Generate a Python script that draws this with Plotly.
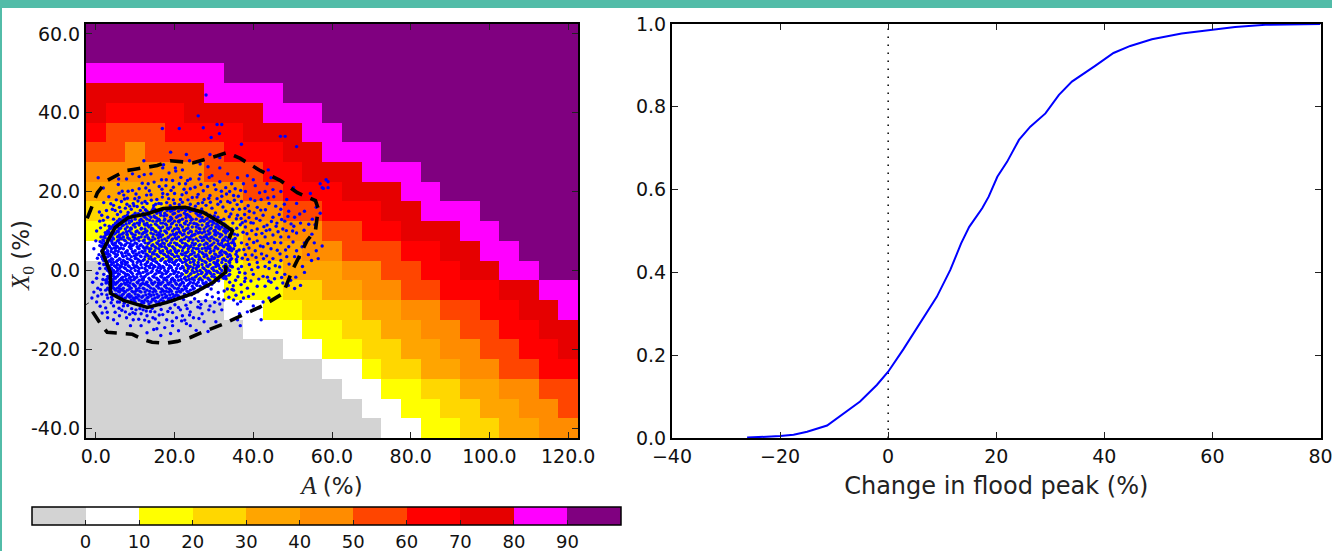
import plotly.graph_objects as go

# ---------- heat map (run-length: level, count, level, count ...) top row first ----------
x_cells = [0, 5, 10, 15, 20, 25, 30, 35, 40, 45, 50, 55, 60, 65, 70, 75, 80, 85, 90, 95, 100, 105, 110, 115, 120]
y_cells = [60, 55, 50, 45, 40, 35, 30, 25, 20, 15, 10, 5, 0, -5, -10, -15, -20, -25, -30, -35, -40]
level_mid = [-5, 5, 15, 25, 35, 45, 55, 65, 75, 85, 95]
level_runs = [
    [10, 25],
    [10, 25],
    [9, 7, 10, 18],
    [8, 6, 9, 4, 10, 15],
    [8, 1, 7, 4, 8, 4, 9, 3, 10, 13],
    [7, 1, 6, 3, 7, 4, 8, 3, 9, 2, 10, 12],
    [6, 2, 5, 1, 6, 4, 7, 3, 8, 2, 9, 3, 10, 10],
    [5, 6, 6, 3, 7, 2, 8, 3, 9, 3, 10, 8],
    [4, 5, 5, 3, 6, 2, 7, 3, 8, 3, 9, 2, 10, 7],
    [3, 4, 4, 4, 5, 2, 6, 2, 7, 3, 8, 2, 9, 3, 10, 5],
    [2, 4, 3, 4, 4, 2, 5, 2, 6, 2, 7, 2, 8, 3, 9, 2, 10, 4],
    [1, 3, 2, 3, 3, 2, 4, 3, 5, 2, 6, 3, 7, 2, 8, 2, 9, 2, 10, 3],
    [0, 1, 1, 4, 2, 3, 3, 2, 4, 3, 5, 2, 6, 2, 7, 2, 8, 2, 9, 2, 10, 2],
    [0, 5, 1, 2, 2, 3, 3, 2, 4, 2, 5, 2, 6, 2, 7, 3, 8, 2, 9, 2],
    [0, 7, 1, 2, 2, 2, 3, 3, 4, 2, 5, 2, 6, 2, 7, 2, 8, 2, 9, 1],
    [0, 8, 1, 3, 2, 2, 3, 2, 4, 2, 5, 2, 6, 2, 7, 2, 8, 2],
    [0, 10, 1, 2, 2, 2, 3, 2, 4, 2, 5, 2, 6, 2, 7, 2, 8, 1],
    [0, 12, 1, 2, 2, 1, 3, 2, 4, 2, 5, 2, 6, 2, 7, 2],
    [0, 13, 1, 2, 2, 2, 3, 2, 4, 2, 5, 2, 6, 2],
    [0, 14, 1, 2, 2, 2, 3, 2, 4, 2, 5, 2, 6, 1],
    [0, 15, 1, 2, 2, 2, 3, 2, 4, 2, 5, 2],
]
band_colors = ["#d3d3d3", "#ffffff", "#ffff00", "#ffd700", "#ffa500", "#ff8c00",
               "#ff4500", "#ff0000", "#e60000", "#ff00ff", "#800080"]
bar_ticks = [0, 10, 20, 30, 40, 50, 60, 70, 80, 90]

# ---------- contours (A, X0) ----------
solid_A = [33.9, 34.7, 31.6, 27.3, 22.7, 17.1, 13.1, 8.2, 4.9, 1.6, 3.7, 3.7, 7, 13.1, 18.1, 24.8, 29.8, 32.9, 33.1]
solid_X = [8.1, 10.1, 12.2, 14.7, 16, 15.7, 14.4, 13.4, 10.9, 4.8, -0.5, -5.8, -7.6, -9.4, -8.1, -5.8, -3, -0.5, 1.3]
dash_A = [-2.2, -0.7, 0.4, 2.9, 7.5, 9.5, 15.6, 18.9, 24.8, 30.9, 33.4, 36.7, 41.8, 46.9, 51.2, 55.8, 56.5, 55.8, 53.7,
          49.9, 47.6, 42.5, 34.9, 32.1, 26.5, 24, 20.7, 17.6, 14.3, 12, 9.3, 6.2, 2.9, 1.1, -2.2]
dash_X = [13.2, 17.2, 19.7, 22.8, 25.3, 25.6, 26.6, 27.8, 27.3, 29.1, 29.9, 28.4, 25.3, 22.8, 19.7, 17.7, 15.7, 10.1, 7.6,
          0, -5.8, -8.9, -12.4, -13.7, -15.9, -17, -18, -18.5, -18.2, -17.5, -16.2, -15.9, -15.7, -13.4, -8.4]

# ---------- scattered samples: sparse ones as (A, X0) pairs ----------
outer_points = [
 (28,44.5),(26,39.2),(16.9,36),(21.2,36),(27.3,36.2),(30.8,37),(32,37),(31.4,34.7),(29.3,33.7),(37,32),(46.9,34),(48.1,34),(51,31.4),(23,29.4),(29,29.4),
 (19,30),(31.5,28.6),(35.5,29),(17.2,26.8),(12.2,27.8),(23.8,27.8),(17,26),(20.2,26),(22,25.5),(26.5,27),(28.5,26.3),(31.5,26),(33.5,24.5),(36,23.5),(38.5,24),
 (43.8,25.5),(44.5,23.5),(43.5,22),(43,20),(45,20.5),(40,23),(37.5,22),(34.5,22),(34,20),(38,20),(40.5,21.5),(42,18),(44,17),(47,20),(48.5,18),(50.2,21),(51,17),
 (54.5,19.5),(58.5,23),(57.8,20.8),(57,22),(59,22.5),(59,21),(57.5,21),(56,16),(57,14.5),(55,13),(53,15),(52,12),(50,10),(47.5,10.5),(45,13.5),(42.5,14),(41,10.5),
 (38,11),(36,14),(39,15),(41,16),(37,17.5),(35,19),(33,21),(31.5,22.5),(29.5,24),(26.5,24.3),(24,23.2),(21.6,23.6),(20.3,25.2),(18.6,24.7),(14,24.5),(12.3,24.3),(11,23.8),(9.3,24.5),
 (7.8,23.2),(5.8,23.2),(0.6,23.5),(5.7,21.8),(1.9,20.9),(5.9,19.6),(6.7,20.1),(8.2,20.1),(9.3,20.3),(11,20.7),(12.7,20.9),(11.8,22.1),(13.3,22),(14.8,22.4),(16.7,23),(17.9,23),(19.5,22.8),
 (23.3,22.8),(26.2,23.2),(28.8,23.6),(16.1,21.3),(17.8,21.5),(19.7,21.1),(21.2,22),(22.8,22),(24,20.7),(26.7,21.8),(28.4,21.3),(2,17.2),(4.5,16.5),(4.2,15.5),(6.5,17.5),(8,18.3),(9.5,17),(11,18.5),
 (12.5,17.5),(14,19.2),(15.5,18),(17,19.5),(18.5,18.2),(20,19.5),(21.5,18),(23,19.7),(24.5,18.5),(26,19.3),(27.5,18),(29,19),(30.5,20.5),(32,18.8),(33.5,17.5),(31,16.8),(34.8,15.5),(36.5,15.5),(33,15),(29.5,15.8),
 (6,16),(7.5,15.8),(9,15.5),(10.5,16.2),(12,16),(13,17),(14.7,16.4),(16,17),(18,17.2),(20,17),(22,17.3),(24,16.8),(26,17),(28,16.5),(1,12.5),(1.5,14),(3,13.5),(4.5,13),(5.5,14.2),(6.5,12.8),(0.2,10),(1.2,10.8),(2.3,11.5),
 (0,7.5),(1.3,8.5),(-0.5,5.5),(0.8,4),(1,6.3),(-0.8,-3),(0.2,-2),(0.5,-4.5),(1.5,-3.5),(2,-1),(1,0.5),(2.5,1.5),(-0.5,-5.5),(0.5,-6.5),(-1,-7),(0.2,-8),(1.5,-6),(2.5,-5),(3,-7),(4,-6.8),(5.5,-8),(4.5,-9),(7,-9),(6,-8),
 (2.5,-9.5),(1.6,-10.8),(3,-12),(4.5,-12.5),(7.5,-10.5),(6,-11.5),(5.5,-13.5),(7.8,-12),(10,-11),(9.5,-12.5),(11.5,-11),(8.8,-14),(11.5,-14),(10.2,-10),(12,-10),(13,-11.5),(13.5,-13),(15,-10.5),(14.5,-12),(16,-13.3),(15.5,-14.8),
 (17,-11.2),(18,-12.5),(17.5,-14.5),(19.5,-10.7),(20.5,-12),(19.5,-14),(21.5,-10),(22,-11.5),(23,-13.5),(24,-10.5),(24.8,-12),(24,-14),(25.5,-15.2),(26.5,-9.5),(27,-11),(27.5,-13),(28.5,-15.5),(29,-9),(30,-10.5),(30.5,-13),(31.5,-8.5),(32,-10),
 (13,-15.8),(14.7,-15),(21,-15.3),(16.5,-16.5),(19,-16),(32.5,-7.5),(33.8,-6.8),(35,-7.5),(36,-8.5),(37.5,-7),(38.5,-10.5),(40,-9),(41.5,-9.5),(36.5,-11),(36,-12.5),(36.7,-14),(42,-12.5),(42.5,-8),(44,-7),
 (35,-5),(37,-5.5),(38.5,-4.5),(40,-6),(41,-4),(43,-4),(44.5,-3),(46,-4.5),(47.5,-3.2),(49.5,-2.5),(50.5,-4.6),(52,-3.8),(48,-1),(46,-0.5),(44,0.5),(42.5,-1.5),(40,-1),(38,-2),(36.5,-0.5),(35.5,-2.5),(34,-3),
 (37,1),(39,1.5),(41,2),(43,1),(45,3),(47,2.5),(48.5,3.5),(50.5,3.5),(51,5),(52.5,1),(53,-0.5),(54,4),(54.8,2.5),(53,7),(55.5,7),(56,5),(57.5,6.2),(56.5,3),(49,6),(47,7),(44.5,5.5),(42.5,6),(40.5,5),(38,4),(36,3.5),
 (35,5.5),(37,7),(39,8),(41,7.5),(43,8.5),(45,9),(47,8.5),(49,8.5),(51,9.5),(36,9),(38,12.5),(40,12),(34.8,12),(43.5,11.5),(46,12),(48,12.5),(50.5,13.5),(49,15),(47,15.5),(32.5,13),(34.5,10.5),(31,12.5),
 (3.3,18.7),(7.1,19.1),(10.2,19.4),(13.6,20.2),(16.9,18.6),(19.1,20.3),(22.4,20.6),(25.2,21.1),(27.3,20.2),(30.1,21.7),(31.9,20.1),(36.2,18.8),(39.3,18.1),(41.6,19.7),(34.1,17.2),(35.9,16.7),(37.8,14.2),(40.2,14.6),(43.1,15.4),(45.7,16.3),
 (2.7,15.2),(3.8,16.9),(5.2,17.9),(7.9,16.8),(9.9,18.2),(11.7,17.1),(14.1,17.8),(16.6,16.9),(18.9,16.4),(21.2,16.7),(23.4,17.9),(25.3,16.3),(27.1,17.2),(29.1,17.3),(30.4,14.6),(32.3,16.1),(33.9,13.6),(35.7,13.1),(37.2,12.1),(38.9,13.4),
 (41.7,12.7),(44.2,10.3),(46.3,9.8),(48.4,10.1),(37.4,9.7),(39.6,10.1),(42.2,9.4),(35.4,8.1),(38.4,6.6),(40.1,7.1),(42.1,4.2),(43.7,6.8),(46.1,5.1),(37.6,5.3),(35.8,2.2),(38.6,2.8),(40.7,3.3),(44.1,2.1),(46.7,0.9),(49.1,1.6),
 (34.7,0.9),(36.1,-1.6),(37.9,-0.7),(39.4,-2.7),(41.4,-2.2),(43.6,-1.7),(45.4,-2.1),(34.9,-3.9),(36.9,-3.6),(33.4,-4.7),(31.1,-5.6),(29.6,-6.7),(33.1,-2.1),(35.6,-6.3),(27.9,-7.7),(26.1,-7.9),(24.1,-8.1),(28.7,-10),(25.9,-9.3),(23.2,-9.7),
 (21,-9.4),(18.9,-9.6),(16.6,-9.9),(15.1,-12.3),(13.9,-10.4),(12.4,-12.6),(10.9,-12.4),(9.1,-9.7),(8.1,-8.9),(6.9,-7.4),(5.3,-6.6),(3.9,-8.2),(2.1,-7.9),(1.1,-9.1),(2.9,-10.6),(4.9,-10.6),(6.6,-10.1),(8.6,-11.1),(19.4,-12.9),(22.6,-12.6),
]
extra_points = [
 (7.3,18.1),(8.6,16.3),(10.7,17.6),(12.9,19.1),(15.2,16.8),(16.8,20.6),(18.2,19.3),(19.7,17.9),(21.9,19.2),(23.7,15.9),(25.7,18.6),(26.9,15.6),(28.7,18.3),(30.8,18.2),(31.7,17.4),(33.2,19.4),
 (35.4,20.7),(36.8,20.3),(38.7,16.4),(40.4,17.7),(41.9,15.3),(43.7,18.4),(45.2,18.7),(46.6,14.2),(47.9,16.8),(48.8,13.7),(50.3,11.2),(51.8,14.3),(52.9,10.2),(54.1,11.7),(54.9,9.2),(55.7,11.6),
 (34.3,14.3),(35.2,17.8),(36.9,13.2),(37.9,15.7),(39.4,12.1),(40.8,13.2),(42.7,11.1),(44.6,12.4),(45.8,11.2),(47.2,12.9),(49.6,11.8),(35.8,10.7),(36.7,11.6),(38.4,9.3),(40.7,9.1),(43.3,10.1),
 (35.2,6.7),(36.4,5.2),(37.2,3.1),(38.9,5.7),(39.7,3.9),(41.8,6.2),(43.4,3.7),(45.4,7.1),(46.8,4.2),(48.2,5.2),(50.1,7.2),(51.7,3.2),(52.4,6),(35.6,4.1),(34.9,7.2),(33.6,6.3),
 (36.2,0.4),(37.8,-2.8),(39.6,0.2),(41.2,0.8),(42.6,3),(43.9,-2.7),(45.6,1.2),(47.2,-1.8),(48.9,-3.8),(50.8,-1.7),(33.8,-1.2),(34.2,2.7),(34.6,-4.8),(32.6,-5.2),(36.8,-7.9),(38.8,-6.6),
 (31.2,-7.2),(30.2,-8.1),(28.3,-6.1),(26.7,-8.6),(25.1,-7.2),(22.9,-8.8),(21.8,-12.8),(23.8,-11.3),(26.2,-12.2),(20.1,-8.7),(18.3,-10.4),(16.1,-11.3),(14.3,-9.6),(12.8,-10.3),(11.2,-9.7),(9.4,-10.7),
 (7.2,-8.3),(5.9,-9.6),(4.2,-7.4),(2.8,-6.2),(1.2,-4.9),(0.3,-0.7),(1.8,-2.3),(2.6,-3.2),(0.9,1.8),(1.7,2.9),(0.4,3.1),(1.1,7.3),(2.4,9.6),(1.9,12.7),(3.4,11.2),(0.9,14.8),
 (4.9,15.2),(6.3,14.9),(8.2,14.7),(9.7,16.4),(11.3,15.2),(12.6,15.4),(3.2,9.3),(4.7,11.2),(5.8,12.1),(7.4,13.7),(9.1,12.6),(10.8,14.4),(12.3,13.6),(14.6,15.7),(16.4,14.6),(18.1,15.2),
 (19.6,14.3),(21.7,15.4),(23.2,14.2),(25.2,15.1),(26.6,14.4),(28.3,13.1),(29.7,12.3),(31.3,11.1),(32.8,10.7),(6.7,11.3),(8.9,10.7),(11.1,12.1),(13.2,11.4),(15.4,13.3),(17.4,12.7),(19.3,13.1),
 (21.1,12.3),(22.9,13.4),(24.9,11.9),(26.7,12.6),(28.6,11.3),(30.3,10.2),(4.1,7.2),(5.7,8.7),(7.9,9.2),(9.9,8.2),(12.4,9.7),(14.1,10.4),(16.2,8.8),(18.3,10.7),(20.4,9.2),(22.3,10.2),
 (24.3,8.7),(26.4,9.7),(28.1,8.4),(30.2,9.1),(32.2,7.6),(33.9,5.2),(3.1,4.3),(5.1,5.7),(6.8,3.7),(8.8,6.2),(10.2,3.2),(12.3,5.6),(14.4,4.2),(16.7,6.1),(18.6,3.2),(20.1,5.3),
 (22.6,4.4),(24.2,6.3),(26.3,3.4),(28.4,5.6),(30.2,3.2),(32.7,4.6),(2.9,1.2),(4.6,-0.7),(6.7,1.7),(8.3,-1.2),(10.6,0.8),(12.1,-2.1),(14.1,1.7),(16.8,-0.7),(18.7,2.2),(20.6,-1.2),
 (22.2,0.7),(24.4,-2.2),(26.1,1.2),(28.2,-0.7),(30.4,1.7),(32.4,-1.2),(4.2,-3.2),(6.1,-4.7),(8.1,-2.7),(10.1,-5.3),(11.9,-3.3),(13.9,-6.2),(15.9,-3.2),(17.9,-5.3),(19.9,-2.7),(21.9,-4.8),
 (23.9,-3.2),(25.9,-5.4),(27.9,-3.3),(29.3,-4.7),(31.2,-2.6),(9.8,-7.2),(12.2,-8.2),(14.4,-7.3),(16.3,-8.7),(18.4,-7.2),(20.7,-6.3),(22.3,-7.4),(24.3,-6.2),
]
# the dense middle of the cloud, row by row: X0 value, then the A values read along that row
cloud_rows = [
 (15.5,[15,17,18.5,20,22,23.5,25]),
 (15,[13,14.5,16,19,21,24,26,27]),
 (14.5,[10,12,15.5,17.5,20,22.5,25.5,28]),
 (14,[8,9.5,11,13.5,16.5,18,21.5,23,26,29]),
 (13.5,[7,9,12.5,14,15,19,20.5,24,27,29.5,31]),
 (13,[6,8,10,11.5,13,16,17.5,22,24.5,25.5,28,30]),
 (12.5,[5.5,7.5,9,12,14.5,15.5,18.5,20,21,23,26.5,27.5,29,31.5]),
 (12,[5,6.5,8.5,10.5,13,16.5,17,19.5,22.5,24,25,28.5,30,32]),
 (11.5,[4.5,7,9.5,11,12.5,14,15.5,18,20.5,21.5,23.5,26,27,29.5,31,33]),
 (11,[4,5.5,8,10,13.5,16,17,19,22,24.5,25.5,28,30.5,32,33.5]),
 (10.5,[3.5,6,7.5,9,11.5,12.5,14.5,18.5,20,21,23,26.5,27.5,29,31.5,34]),
 (10,[3,4.5,5.5,8.5,10.5,13,15,16.5,17.5,19.5,22.5,24,25.5,28.5,30,32.5,33.5]),
 (9.5,[3.5,5,7,9,11,12,14,16,18,20.5,21.5,23.5,26,27,29,31,33]),
 (9,[2.5,4,6,8,10,13,15.5,17,19,20,22,24.5,25,28,30.5,32,34]),
 (8.5,[2,3.5,5.5,7,9.5,11.5,12.5,14.5,16.5,18.5,21,23,26.5,27.5,29.5,31.5,33]),
 (8,[3,4.5,6.5,8.5,10.5,13.5,15,17.5,19.5,20.5,22.5,24,25.5,28.5,30,32.5,34]),
 (7.5,[2,4,5.5,7.5,9,11,12,14,16,18,21.5,23.5,26,27,29,31,33.5]),
 (7,[1.5,3,5,6,8,10,12.5,13.5,15.5,17,19,20,22,24.5,28,30,32,34.5]),
 (6.5,[2.5,4.5,6.5,7.5,9.5,11.5,14.5,16.5,18.5,20.5,23,25,26.5,27.5,29.5,31.5,33]),
 (6,[1.5,3.5,5.5,8.5,10.5,12,13,15,17.5,19.5,21.5,22.5,24,28.5,30.5,32.5,34]),
 (5.5,[2,4,6,7,9,11,13.5,14,16,18,20,23.5,25.5,26,27,29,31,33.5]),
 (5,[1.5,3,5,8,10,12.5,15,17,19,21,22,24.5,28,30,32,34.5]),
 (4.5,[2.5,4.5,6.5,7.5,9.5,11,12,14.5,16.5,18.5,20.5,23,25,27,29,31.5,33]),
 (4,[2,3.5,5.5,8.5,10.5,13,15.5,17.5,19.5,22,24,26,28,30.5,32,34]),
 (3.5,[1.5,3,5,7,9,11.5,12.5,14,16,18,20,21,23.5,25.5,27.5,29.5,31,33.5]),
 (3,[2.5,4,6,8,10,13.5,15,17,19,22.5,24.5,26.5,28.5,30,32.5,34.5]),
 (2.5,[2,3.5,5.5,7,9,11,12,14.5,16.5,18.5,20.5,21.5,23,25,27,29,31,33]),
 (2,[3,4.5,6.5,8,10.5,13,15.5,17.5,19.5,22,24,26,28,30,32,34]),
 (1.5,[2,4,5.5,7.5,9.5,11.5,12.5,14,16,18,20,21,23,25,27,29,31,33]),
 (1,[3.5,5,6.5,8.5,10,13.5,15,17,19,22,24,26,28.5,30.5,32.5,34.5]),
 (0.5,[2.5,4,6,7.5,9,11,12.5,14.5,16.5,18.5,20.5,21.5,23.5,25.5,27.5,29.5,31.5,33.5]),
 (0,[3,4.5,5.5,8,10,13,15.5,17.5,19.5,22.5,24.5,26.5,28,30,32,34]),
 (-0.5,[3.5,5,7,9,11,12,14,16,18,20,21,23,25,27,29,31,33]),
 (-1,[4,6,8,10.5,13,15,17,19,22,24,26,28,30,32,34]),
 (-1.5,[3,4.5,5.5,7.5,9.5,11.5,12.5,14.5,16.5,18.5,20.5,21.5,23.5,25.5,27.5,29.5,31.5,33]),
 (-2,[3.5,5,6.5,8.5,10,13.5,15.5,17.5,19.5,22.5,24.5,26.5,28.5,30.5,32.5]),
 (-2.5,[2.5,4,6,7,9,11,12,14,16,18,20,21,23,25,27,29,31]),
 (-3,[3,4.5,5.5,8,10.5,13,15,17,19,22,24,26,28,30]),
 (-3.5,[3.5,5,6.5,7.5,9.5,11.5,12.5,14.5,16.5,18.5,20.5,21.5,23.5,25.5,27.5,29.5]),
 (-4,[4,6,8.5,10,13.5,15.5,17.5,19.5,22.5,24.5,26.5,28.5]),
 (-4.5,[3,4.5,5.5,7,9,11,12,14,16,18,20,21,23,25,27]),
 (-5,[3.5,5,6.5,8,10.5,13,15,17,19,22,24,26]),
 (-5.5,[4,6,7.5,9.5,11.5,12.5,14.5,16.5,18.5,20.5,21.5,23.5,25]),
 (-6,[5,7,8.5,10,13.5,15.5,17.5,19.5,22.5,24]),
 (-6.5,[6,8,9,11,12,14,16,18,20,21,23]),
 (-7,[7.5,9.5,10.5,13,15,17,19,21.5]),
 (-7.5,[9,11,12.5,14.5,16.5,18.5,20]),
 (-8,[10,12,14,16,18]),
 (-8.5,[11.5,13.5,15.5]),
]
cloud_rows_b = [
 (15.2,[14.3,16.7,19.4,22.8,24.6]),
 (13.8,[9.2,12.1,14.8,17.3,20.9,23.7,26.4,28.6,30.1]),
 (12.7,[6.4,8.3,11.2,13.7,16.2,18.9,21.3,24.2,27.1,29.8,31.8]),
 (11.8,[5.3,7.7,9.8,12.3,15.1,17.7,19.2,22.7,25.6,28.2,30.7,32.6]),
 (10.7,[3.8,6.3,8.9,11.6,14.2,16.4,18.2,20.7,23.4,26.2,29.3,31.2,33.1]),
 (9.8,[3.2,5.7,7.8,10.2,12.7,15.3,17.8,21.2,24.3,27.6,30.4,32.9,34.6]),
 (9.2,[2.8,4.6,6.6,9.3,11.8,14.6,16.3,19.7,22.4,25.2,28.7,31.6,35.2]),
 (8.3,[2.3,4.3,6.2,8.1,10.9,13.3,15.9,18.3,20.2,23.7,26.8,29.2,33.6]),
 (7.7,[1.8,3.7,5.8,7.2,9.7,12.3,14.3,16.8,19.3,21.8,24.7,27.4,30.7,32.7,34.9]),
 (6.8,[2.2,4.2,6.3,8.7,10.4,13.2,15.7,17.4,20.6,22.7,25.3,28.3,31.1,33.7]),
 (6.3,[1.7,3.3,5.1,7.3,9.2,11.2,14.2,16.2,18.7,21.2,23.3,26.2,29.1,32.2,35.3]),
 (5.7,[2.6,4.7,6.4,8.8,10.7,12.8,15.3,17.8,19.8,22.2,24.8,27.7,30.3,34.2]),
 (4.8,[1.9,3.9,5.7,7.8,9.3,11.7,13.7,16.3,18.2,20.2,23.4,26.3,29.2,31.8,35.8]),
 (4.2,[2.7,4.9,6.7,8.3,10.2,12.7,14.8,17.2,19.2,21.7,24.4,27.3,30.2,33.2]),
 (3.7,[1.8,3.6,5.3,7.7,9.8,11.3,13.3,15.7,18.3,20.7,22.8,25.2,28.2,31.4,34.2]),
 (2.8,[2.2,4.3,6.2,8.6,10.7,12.3,14.2,16.7,19.3,21.3,23.7,26.2,29.3,32.2,35.7]),
 (2.2,[2.7,3.8,5.2,7.4,9.4,11.4,13.2,15.2,17.7,20.2,22.7,24.8,27.7,30.8,33.8]),
 (1.2,[3.2,4.7,6.1,8.2,10.3,12.8,14.7,16.3,18.7,20.8,23.3,25.7,28.2,31.2,34.1]),
 (0.7,[2.8,5.3,7.2,9.7,11.7,13.7,15.8,17.3,19.2,22.1,24.7,27.2,29.8,32.8]),
 (-0.2,[3.3,4.2,6.4,8.7,10.8,12.7,14.3,16.2,18.3,20.3,23.2,25.7,28.7,30.7,33.2]),
 (-0.8,[3.8,5.7,7.4,9.3,11.3,13.3,15.3,17.8,19.8,21.8,24.2,26.8,29.2,31.7]),
 (-1.7,[3.2,4.8,6.8,8.8,10.4,12.2,14.8,16.8,18.2,20.7,22.7,25.2,27.7,30.2,32.2]),
 (-2.3,[2.8,4.4,6.3,7.7,9.7,11.7,13.7,15.7,17.3,19.2,21.7,23.7,26.2,28.7]),
 (-3.2,[3.7,5.2,7.3,8.7,10.7,12.8,14.2,16.3,18.3,20.3,22.3,24.8,27.2]),
 (-3.8,[4.3,6.2,8.2,9.8,11.3,13.2,15.8,17.7,19.3,21.3,23.3,25.7,28.2]),
 (-4.7,[3.2,4.8,6.8,8.6,10.3,12.3,14.7,16.7,18.7,20.7,22.7,24.7]),
 (-5.3,[3.8,5.7,7.2,9.2,11.2,13.7,15.2,17.2,19.2,21.2,23.2]),
 (-6.2,[5.3,6.7,8.2,10.7,12.7,14.7,16.8,18.8,20.4,22.7]),
 (-6.8,[6.6,8.6,10.2,11.7,13.3,15.7,17.7,19.7,21.3]),
 (-7.8,[9.7,11.7,13.2,15.2,17.2,19.2]),
]
scatter_A = [p[0] for p in outer_points + extra_points]
scatter_X = [p[1] for p in outer_points + extra_points]
for row_x, row_a in cloud_rows + cloud_rows_b:
    scatter_A += row_a
    scatter_X += [row_x] * len(row_a)

# ---------- right panel: cumulative curve ----------
change = [-26.1, -23, -20, -17.5, -15, -11.3, -8.9, -5.2, -2.1, 0, 2.8, 5.9, 9, 11.5, 12.4, 13.5, 15, 17.4, 18.6, 20.2, 22,
          24.2, 26.3, 29.1, 31.6, 34, 38.3, 41.7, 44.8, 48.8, 54.3, 60.5, 64.2, 69.8, 80]
cdf = [0.001, 0.0024, 0.0048, 0.008, 0.015, 0.03, 0.052, 0.088, 0.128, 0.16, 0.214, 0.277, 0.341, 0.406, 0.435, 0.47, 0.51,
       0.555, 0.583, 0.631, 0.667, 0.72, 0.752, 0.784, 0.829, 0.861, 0.899, 0.93, 0.947, 0.963, 0.977, 0.988, 0.993, 0.998, 1.0]
zero_x = [0, 0]
zero_y = [0, 1]

left_xticks = [0, 20, 40, 60, 80, 100, 120]
left_xlabels = ["0.0", "20.0", "40.0", "60.0", "80.0", "100.0", "120.0"]
left_yticks = [-40, -20, 0, 20, 40, 60]
left_ylabels = ["-40.0", "-20.0", "0.0", "20.0", "40.0", "60.0"]
right_xticks = [-40, -20, 0, 20, 40, 60, 80]
right_yticks = [0, 0.2, 0.4, 0.6, 0.8, 1.0]

W, H = 1400, 551   # the page is wider than the window so that the "80" label is simply cut at the edge
z = []
for runs in reversed(level_runs):
    row = []
    for lv, n in zip(runs[0::2], runs[1::2]):
        row += [level_mid[lv]] * n
    z.append(row)

n = len(band_colors)
cs = []
for i, c in enumerate(band_colors):
    cs += [[i / n, c], [(i + 1) / n, c]]

fig = go.Figure()
fig.add_trace(go.Heatmap(x=x_cells, y=list(reversed(y_cells)), z=z, zmin=-10, zmax=100, colorscale=cs,
    xaxis="x", yaxis="y", hoverinfo="skip",
    colorbar=dict(orientation="h", x=32 / W, xanchor="left", y=1 - 507 / H, yanchor="top",
                  len=589, lenmode="pixels", thickness=18, thicknessmode="pixels", xpad=0, ypad=0,
                  outlinecolor="black", outlinewidth=1.5,
                  tickmode="array", tickvals=bar_ticks, ticktext=[str(t) for t in bar_ticks],
                  ticks="inside", ticklen=5, tickcolor="#222", tickwidth=1,
                  tickfont=dict(family="DejaVu Sans", size=18, color="#111"))))
fig.add_trace(go.Scatter(x=scatter_A, y=scatter_X, mode="markers", marker=dict(color="#0000ff", size=3.4),
                         xaxis="x", yaxis="y", showlegend=False))
fig.add_trace(go.Scatter(x=dash_A, y=dash_X, mode="lines", line=dict(color="black", width=3.6, dash="13px,9px"),
                         xaxis="x", yaxis="y", showlegend=False))
fig.add_trace(go.Scatter(x=solid_A, y=solid_X, mode="lines", line=dict(color="black", width=3.6),
                         xaxis="x", yaxis="y", showlegend=False))
fig.add_trace(go.Scatter(x=zero_x, y=zero_y, mode="lines", line=dict(color="black", width=1.5, dash="1.5px,6.5px"),
                         xaxis="x2", yaxis="y2", showlegend=False))
fig.add_trace(go.Scatter(x=change, y=cdf, mode="lines", line=dict(color="#0000ff", width=2),
                         xaxis="x2", yaxis="y2", showlegend=False))

axis_common = dict(showgrid=False, zeroline=False, showline=True, linecolor="black", linewidth=2, mirror="ticks",
                   ticks="inside", ticklen=6, tickwidth=1, tickcolor="#222",
                   tickfont=dict(family="DejaVu Sans", size=19, color="#111"))
math_label = dict(family="Liberation Serif", size=25, color="#222")
plain_label = dict(family="DejaVu Sans", size=24, color="#222")
fig.update_layout(
    width=W, height=H, autosize=False, paper_bgcolor="white", plot_bgcolor="white", showlegend=False,
    margin=dict(l=0, r=0, t=0, b=0, autoexpand=False),
    xaxis=dict(axis_common, domain=[86 / W, 578 / W], range=[-2.5, 122.5], anchor="y",
               tickmode="array", tickvals=left_xticks, ticktext=left_xlabels,
               title=dict(text='<i>A</i> <span style="font-family:DejaVu Sans;font-size:23px">(%)</span>',
                          font=math_label, standoff=11)),
    yaxis=dict(axis_common, domain=[1 - 438 / H, 1 - 24 / H], range=[-42.5, 62.5], anchor="x",
               tickmode="array", tickvals=left_yticks, ticktext=left_ylabels),
    xaxis2=dict(axis_common, domain=[672 / W, 1320.5 / W], range=[-40, 80], anchor="y2",
                tickmode="array", tickvals=right_xticks, ticktext=["\u221240", "\u221220", "0", "20", "40", "60", "80"],
                title=dict(text="Change in flood peak (%)", font=plain_label, standoff=11)),
    yaxis2=dict(axis_common, domain=[1 - 438 / H, 1 - 24 / H], range=[0, 1], anchor="x2",
                tickmode="array", tickvals=right_yticks, ticktext=["0.0", "0.2", "0.4", "0.6", "0.8", "1.0"]),
    annotations=[dict(text='<i>X</i><sub>0</sub> <span style="font-family:DejaVu Sans;font-size:23px">(%)</span>',
                      xref="paper", yref="paper", x=22 / W, y=1 - 256 / H, textangle=-90, showarrow=False,
                      xanchor="center", yanchor="middle", font=math_label)],
    shapes=[
        dict(type="rect", xref="paper", yref="paper", x0=0, x1=1, y0=1 - 8 / H, y1=1, fillcolor="#52bca8", line_width=0, layer="above"),
        dict(type="rect", xref="paper", yref="paper", x0=0, x1=2 / W, y0=0, y1=1, fillcolor="#52bca8", line_width=0, layer="above"),
    ],
)
fig.write_html("out.html", config=dict(displayModeBar=False),
               post_script="document.documentElement.style.overflow='hidden';document.body.style.margin='0';document.body.style.overflow='hidden';")
